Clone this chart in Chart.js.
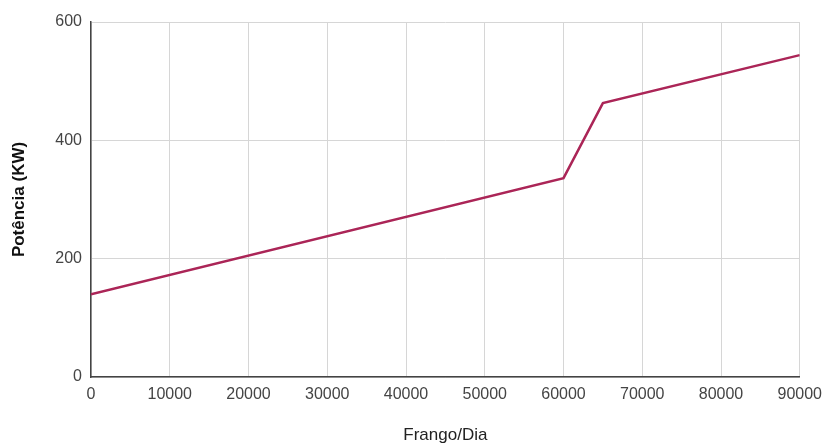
<!DOCTYPE html>
<html lang="pt">
<head>
    <meta charset="UTF-8">
    <title>Potência x Frango/Dia</title>
    <script src="https://cdn.jsdelivr.net/npm/chart.js"></script>
    <style>
        html, body { margin: 0; padding: 0; background: #fff; }
        #wrap { width: 830px; height: 448px; }
    </style>
</head>
<body>
    <div id="wrap"><canvas id="grafico"></canvas></div>

    <script>
        // dados
        const frangoDia = [0, 60000, 65000, 90000];
        const potencia = [140, 336, 463, 544];

        const pontos = frangoDia.map((x, i) => ({ x: x, y: potencia[i] }));

        Chart.defaults.font.family = "'Liberation Sans', Arial, sans-serif";
        Chart.defaults.font.size = 16;
        Chart.defaults.color = '#444';

        const ctx = document.getElementById('grafico').getContext('2d');
        new Chart(ctx, {
            type: 'line',
            data: {
                datasets: [{
                    data: pontos,
                    borderColor: '#ab2557',
                    borderWidth: 2.5,
                    pointRadius: 0,
                    tension: 0,
                    fill: false
                }]
            },
            options: {
                responsive: true,
                maintainAspectRatio: false,
                animation: false,
                layout: { padding: { top: 22, right: 27, left: 0, bottom: 0 } },
                plugins: {
                    legend: { display: false },
                    tooltip: { enabled: false }
                },
                scales: {
                    x: {
                        type: 'linear',
                        min: 0,
                        max: 90000,
                        afterFit: s => { s.height = 71; },
                        ticks: {
                            stepSize: 10000, padding: 8, maxRotation: 0, color: '#444',
                            callback: v => String(v)
                        },
                        grid: { color: '#d6d6d6', drawTicks: false },
                        border: { color: '#444', width: 1.5 },
                        title: {
                            display: true,
                            text: 'Frango/Dia',
                            color: '#222',
                            font: { size: 17 },
                            padding: { top: 20, bottom: 2 }
                        }
                    },
                    y: {
                        min: 0,
                        max: 600,
                        afterFit: s => { s.width = 91; },
                        ticks: { stepSize: 200, padding: 9, color: '#444' },
                        grid: { color: '#d6d6d6', drawTicks: false },
                        border: { color: '#444', width: 1.5 },
                        title: {
                            display: true,
                            text: 'Potência (KW)',
                            color: '#111',
                            font: { size: 17, weight: 'bold' },
                            padding: { top: 9, bottom: 22 }
                        }
                    }
                }
            }
        });
    </script>
</body>
</html>
